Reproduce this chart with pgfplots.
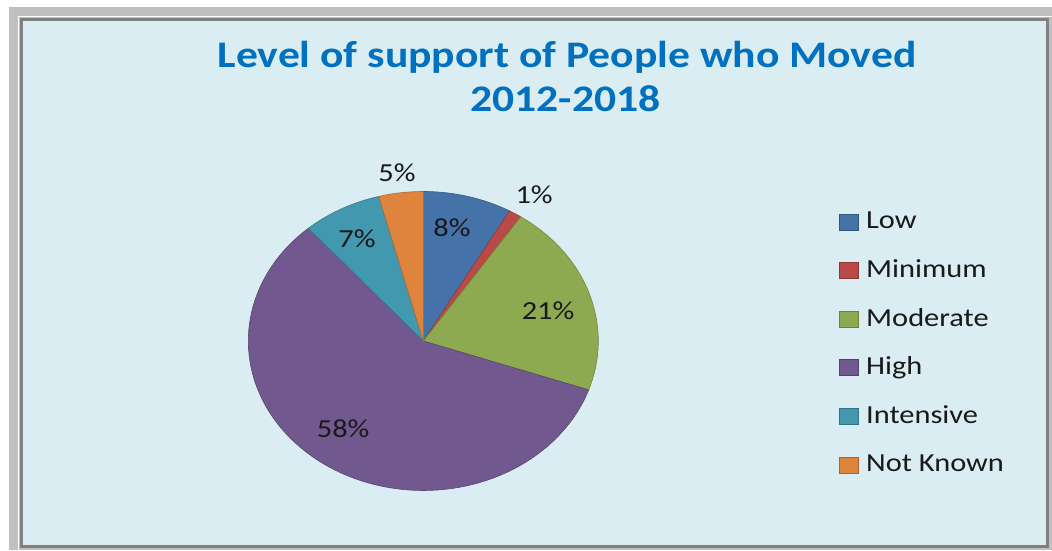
\documentclass[border=0pt]{standalone}
\usepackage{pgfplots}
\pgfplotsset{compat=1.18}
\usepackage{pgfplotstable}
\usepackage{graphicx}
\usepackage{fontspec}
\setmainfont{Carlito}
\definecolor{slice0}{HTML}{4572A8}
\definecolor{slice1}{HTML}{B94A48}
\definecolor{slice2}{HTML}{8EAA50}
\definecolor{slice3}{HTML}{71588F}
\definecolor{slice4}{HTML}{4298AF}
\definecolor{slice5}{HTML}{DE843C}
\definecolor{bgblue}{HTML}{DAEDF3}
\definecolor{titleblue}{HTML}{0070C0}
\definecolor{outergray}{HTML}{C0C0C0}
\definecolor{framegray}{HTML}{808080}
\pgfplotstableread{
label value
Low 8.2
Minimum 1.2
Moderate 20.9
High 58.3
Intensive 7.3
NotKnown 4.1
}\piedata
\newcommand{\sx}[1]{\scalebox{1.17}[1]{#1}}
\begin{document}
\begin{tikzpicture}[x=1pt,y=1pt]
\fill[white] (0,0) rectangle (1052,550);
\fill[outergray] (9,0) rectangle (1052,543);
\draw[white,line width=1.5pt] (18.5,0) -- (18.5,533.5) -- (1052,533.5);
\filldraw[fill=bgblue,draw=framegray,line width=3pt] (21.5,3.5) rectangle (1047.5,530);
\node[anchor=base,text=titleblue,font=\fontsize{37.5}{42}\selectfont\bfseries] at (567,482) {\scalebox{1.163}[1]{Level of support of People who Moved}};
\node[anchor=base,text=titleblue,font=\fontsize{37.5}{42}\selectfont\bfseries] at (565.5,438) {\scalebox{1.163}[1]{2012-2018}};
\begin{axis}[
  at={(423.3pt,209pt)}, anchor=origin,
  x=175pt, y=149.5pt,
  xmin=-2.305, xmax=3.575, ymin=-1.385, ymax=2.154,
  hide axis, clip=false,
  legend image code/.code={\draw[#1] (0pt,-1pt) rectangle (19pt,15pt);},
  legend style={at={(axis description cs:0.7959,0.6357)}, anchor=north west,
    draw=none, fill=none, inner sep=0pt, row sep=25.6pt, column sep=7.3pt,
    font=\fontsize{26}{30}\selectfont, text=black!90,
    nodes={inner sep=0pt, text height=17pt, text depth=6pt, anchor=base west}},
  legend cell align=left,
]
\pgfmathsetmacro\cum{0}
\pgfplotsforeachungrouped \i in {0,...,5}{%
  \pgfplotstablegetelem{\i}{value}\of\piedata
  \pgfmathsetmacro\angA{90-3.6*\cum}
  \pgfmathsetmacro\cum{\cum+\pgfplotsretval}
  \pgfmathsetmacro\angB{90-3.6*\cum}
  \edef\doslice{\noexpand\addplot[fill=slice\i, draw=slice\i!80!black, line width=0.6pt, domain=\angB:\angA, samples=90, forget plot] ({cos(x)},{sin(x)}) -- (axis cs:0,0) -- cycle;}
  \doslice
}
\addlegendimage{fill=slice0,draw=slice0!75!black,line width=0.8pt}\addlegendentry{\sx{Low}}
\addlegendimage{fill=slice1,draw=slice1!75!black,line width=0.8pt}\addlegendentry{\sx{Minimum}}
\addlegendimage{fill=slice2,draw=slice2!75!black,line width=0.8pt}\addlegendentry{\sx{Moderate}}
\addlegendimage{fill=slice3,draw=slice3!75!black,line width=0.8pt}\addlegendentry{\sx{High}}
\addlegendimage{fill=slice4,draw=slice4!75!black,line width=0.8pt}\addlegendentry{\sx{Intensive}}
\addlegendimage{fill=slice5,draw=slice5!75!black,line width=0.8pt}\addlegendentry{\sx{Not Known}}
\begin{scope}[every node/.style={font=\fontsize{26}{30}\selectfont, text=black!90, inner sep=0pt}]
\node at (axis cs:-0.150,1.124) {\sx{5\%}};
\node at (axis cs:0.633,0.977) {\sx{1\%}};
\node at (axis cs:0.164,0.759) {\sx{8\%}};
\node at (axis cs:-0.379,0.686) {\sx{7\%}};
\node at (axis cs:0.713,0.201) {\sx{21\%}};
\node at (axis cs:-0.458,-0.589) {\sx{58\%}};
\end{scope}
\end{axis}
\pgfresetboundingbox
\path (0,0) rectangle (1052,550);
\end{tikzpicture}
\end{document}
